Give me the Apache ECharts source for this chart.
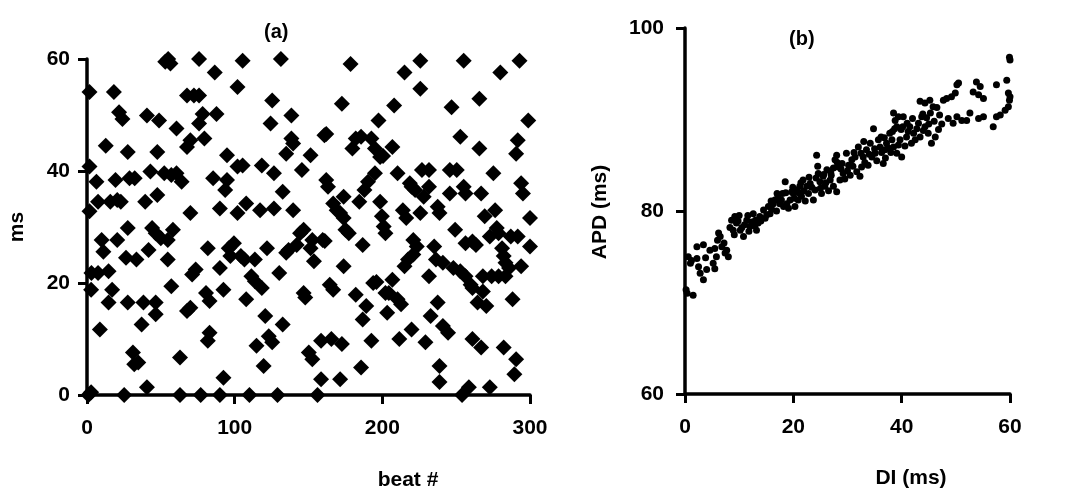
<!DOCTYPE html>
<html>
<head>
<meta charset="utf-8">
<script src="https://cdn.jsdelivr.net/npm/echarts@6/dist/echarts.min.js"></script>
<style>
html,body{margin:0;padding:0;background:#fff;}
#chart{width:1071px;height:496px;}
</style>
</head>
<body>
<div id="chart"></div>
<script>
// Panel (a): beat number vs ms (diamonds)
const aBeat = [1.7,1.7,6.4,1.7,7.5,9.9,11.1,3,7.5,14.6,2.8,17,14.6,8.7,12.7,18.2,21.7,24,27.6,19.3,15.8,20.5,22.9,20.5,27.6,26.4,33.5,28.8,32.3,27.6,31.1,34.7,32,25.2,1,2.8,
40.6,48.8,42.9,47.6,39.4,47.6,44.1,46.5,41.7,50,54.7,52.3,57.1,53,55,56.5,60.6,58.2,54.7,38.2,37,46.5,46.5,40.6,57.1,63,63,60.6,64.1,67.7,70,67.7,72.4,75.9,75.9,78.3,79.5,70,71.2,73.6,67.7,70,75.9,77,
81.8,80.6,83,83,81.8,86.5,87.7,85.4,90,90,92.4,92.4,90,94.8,93.6,94.8,96,99.5,97.1,101.9,101.9,105.4,101.9,105.4,107.8,104.2,106.6,107.8,110,111.3,113.7,114.8,113.7,117.2,118.4,118.4,120.7,119.6,121.9,123.1,125.4,125.4,124.3,126.6,126.6,129,
131.3,130.2,132.5,132.5,134.9,136.5,134.9,139.6,138.4,138.4,139.6,142,144.3,146.7,145.5,146.7,147.8,151.4,150.2,152.6,151.4,152.6,153.7,156.1,158.5,158.5,159.6,161,160.8,162,162,163.2,164.4,166.7,165.5,166.7,169.1,171.4,171.4,172.6,173.8,173.8,175,177.3,173.8,172.6,178.5,
179.7,182,185.6,182,184.4,185.6,186.7,187.9,186.7,189.1,190.3,192.6,192.6,195,193.8,196,195,197.4,198.5,198.5,200.5,199.7,200.9,202.1,202.1,204.4,203.3,206.8,208,206.8,210.3,210.3,212.7,211.5,215,213.9,216.2,215,217.4,218.6,219.8,222.2,219.8,221,223.3,221,
225.7,225.7,225.7,226.8,231.6,228,231.6,229.2,231.6,232.7,235.1,236.3,241,237.5,238.7,238.7,237.5,238.7,241,244.5,245.7,245.7,246.9,250.4,252.8,249.3,248.1,252.8,256.3,254,255.1,255.1,256.3,256.3,261,263.4,259.8,261,258.6,261,264.5,265.7,265.7,266.9,268.1,268.1,270.4,266.9,269.3,
272.8,275.2,276.4,272.8,277.5,278.7,274,278.7,279.9,281.1,282.2,283.4,285.8,283.4,282.2,287,291.7,288.2,290.6,289.4,290.6,291.7,292.9,294,295.2,298.8,300,300,294];
const aMs = [54.1,40.8,38.1,32.8,34.5,27.7,25.6,21.8,21.8,22.1,18.8,18.8,16.5,11.7,44.5,54.1,50.5,49.3,43.4,38.4,34.5,34.8,34.5,27.7,29.8,24.5,24.2,38.7,38.7,16.5,7.6,5.8,5.5,0,0,0.5,
49.9,49,39.9,43.4,34.5,35.7,29.8,28.9,25.9,28,24.2,39.6,39.3,59.5,60,59.2,47.6,29.5,27.7,16.5,12.6,16.5,14.4,1.4,19.4,6.7,0,39.6,38.1,44.3,45.5,53.5,53.5,53.5,48.5,50.2,45.8,32.5,21.5,22.4,15,15.6,60,0,
26.2,18.2,16.8,11.1,9.7,57.6,50.2,38.7,0,22.7,3.1,18.8,33.3,38.4,36.6,42.8,26.2,27.1,24.8,32.5,55,59.7,40.8,41,34.2,24.8,24.2,17.1,0,21.2,20.3,8.8,24.2,33,41,19.1,14.1,5.2,26.2,10.5,9.4,52.6,48.5,39.6,33.3,0,
60,21.8,12.6,36.3,25.4,25.9,43.1,44.9,45.8,49.9,33,26.8,28.9,29.5,40.2,18.2,17.4,42.8,7.6,6.4,26.2,27.7,23.9,0,2.8,9.7,27.7,27.5,46.4,46.6,38.4,37.2,19.7,18.8,10,34.2,33,32.5,2.8,9.1,35.4,31.6,29.5,28.9,23,52,59.1,
44,45.8,46.1,17.9,34.5,4.9,26.8,36.6,13.5,15.9,38.1,9.7,45.8,44,20,20.2,39.6,49,34.5,42.5,42.7,31.9,30.1,28.9,18.2,18.2,14.7,20.6,51.7,44.3,39.6,17.1,16.2,10,57.6,33,31.6,23,24.2,37.8,37.2,36.6,11.7,27.7,26.5,25.1,
59.7,54.7,32.5,40.2,40.2,35.4,37.2,9.4,21.2,14.1,26.5,24.2,23.6,16.5,5.2,2.3,33.6,32.5,12.3,11.1,40.2,36,51.4,40.2,46.1,29.5,22.7,22.1,21.2,0,59.7,37.2,36,27.1,27.4,26.8,19.7,19.1,1.4,10,16.5,52.9,44,36,21.2,18.5,15.9,8.5,31.9,
1.4,39.6,33,28.3,29.8,28.9,21.2,21.2,57.6,26.2,24.8,23.6,22.7,21.2,8.5,28.3,28.3,17.1,6.4,3.7,43.1,45.5,59.7,37.8,36,49,31.6,26.5,23];

// Panel (b): DI (ms) vs APD (ms) (dots)
const bDI = [0.2,0.4,1.5,0.6,1.2,2.2,2.5,2.8,2.2,3.4,3.4,4,4.6,5.5,5.2,5.5,5.8,6.2,6.5,6.8,7.7,7.4,8,8.6,9.2,9.5,8.9,8.3,10.2,10.5,10.8,11.4,12,12.3,12.6,13.2,13.5,13.8,14.5,15.1,15.4,15.7,16.3,16.6,17.2,17.8,18.2,18.5,18.8,19.1,19.4,20,20.6,21.2,20.3,20.9,21.5,21.8,22.5,22.8,23.1,23.7,24,24.3,24.6,24.9,25.5,26.2,25.2,25.8,26.8,27.4,27.7,28,28.3,27.4,28,28.6,29.2,29.8,30.2,30.8,31.4,32,32.6,32.9,32.3,33.5,34.2,34.5,34.8,35.1,35.7,36,36.6,36.9,37.2,37.8,38.2,38.5,38.8,39.1,39.4,38.5,39.1,39.7,40,40.3,40.9,41.5,41.8,42.2,43.1,43.4,43.7,43.4,44.3,45.2,45.8,44.3,44.9,45.5,46.2,46.8,47.7,48.3,49.2,49.9,50.2,50.5,48.6,49.5,50.2,51.1,52,53.2,53.8,54.2,54.5,55.1,52.6,54.2,55.1,56.9,57.5,58.2,59.1,57.5,59.4,59.7,60,59.9,59.7,60,59.9,
9.8,10,11,11.8,12.9,14,14.8,16,16.9,17.5,18,19.7,20.2,21,21.9,22.2,23.4,24.2,25,26,26.5,27,28.8,29.5,30,30.5,31,31.7,33.2,33.8,34,35.4,36.3,37,37.5,38,39.4,40.6,41.2,42.5,42.8,44,44.6,45,46,47,47.4,
15.9,17,18.6,19.9,21.4,22.9,24.5,25.6,26.9,28.1,29,31.2,32.5,33,35,36.2,38.7,39.9,41,42,43.9,45.3,46.5,1,3.8,6,7.2,9.1,11.6,13,40.2,38.3,36.8];
const bAPD = [71.4,71,70.8,75,74.6,74.8,73.9,73.2,76.1,76.3,72.5,73.6,75.7,75.9,74.3,73.7,75,77.6,77.2,76.1,75.7,75.4,75,79,79.4,78.7,77.9,78.2,77.9,78.2,77.2,79,78.3,78.8,79.7,77.9,78.7,79.4,80.1,79.6,80.5,79.7,80.8,81.2,81.6,81.2,80.5,83.2,80.8,80.3,81.2,81.9,82.3,82.7,80.5,81.2,81.6,83.4,82.7,81.9,83,81.2,82.3,86.1,84.1,83.2,83.8,84.5,81.9,82.7,83.4,84.7,85.6,86.1,84.8,82.7,82.1,83.4,84.1,86.3,85,85.6,85.9,87,84.8,85.9,83.8,86.7,87.4,85.9,89,86.3,87.8,87,85.2,86.7,87.4,88.5,87.8,90.7,89.9,89.2,90.3,87,86.3,87.8,85.9,90.3,88.1,89.2,87.4,88.5,89.6,88.1,90.3,92,91.8,92.1,91.4,89.2,88.5,87.4,88.1,88.9,92.1,92.3,92.5,92.9,93.8,94,90.1,89.6,90.3,89.9,89.9,93,94.1,92.7,93.6,92.3,90.7,90.1,90.3,89.2,90.3,90.5,91,93.8,94.3,92.9,92.5,92.1,91.4,96.5,96.8,
78.9,79.5,78.5,77.8,78.4,78.9,79.2,80.2,80,80.8,81.9,82.1,81.4,82,82.2,81.1,82.6,83.6,82.5,83.1,82.2,83.9,84.6,83.5,84.4,83.9,84.9,84.3,85.3,85,86.2,85.5,86.4,85.8,86.9,86.4,87.2,87.1,88.7,87.8,89,88.8,90.2,89.5,89.8,90.5,89.5,
81.1,81.9,82,82.6,83.1,83.7,84.9,84,84.2,85.3,85.2,86.4,86.3,87.6,86.8,88.1,89,88.9,89.6,90.1,90.6,90.7,91.3,74.3,74.9,76.8,76.5,77.4,79.5,79,89.2,88.7,88];

const aTicks = [0, 100, 200, 300];
const bTicks = [0, 20, 40, 60];

const FONT = '"Liberation Sans", Arial, sans-serif';
const INK = '#000';

function zip(xs, ys) { return xs.map((x, i) => [x, ys[i]]); }

function axisCommon(extra) {
  return Object.assign({
    type: 'value',
    splitLine: { show: false },
    axisLine: { show: true, onZero: false, lineStyle: { color: INK, width: 3.5 } },
    axisTick: { show: true, inside: false, length: 9, lineStyle: { color: INK, width: 3 } },
    axisLabel: { color: INK, fontSize: 20, fontWeight: 'bold', fontFamily: FONT }
  }, extra);
}

const chart = echarts.init(document.getElementById('chart'), null, { renderer: 'canvas' });
chart.setOption({
  backgroundColor: '#fff',
  animation: false,
  grid: [
    { left: 87, top: 59, width: 443, height: 336 },
    { left: 685, top: 28, width: 325, height: 366 }
  ],
  xAxis: [
    axisCommon({ gridIndex: 0, min: aTicks[0], max: aTicks[aTicks.length - 1], interval: 100,
      axisLabel: { color: INK, fontSize: 21, fontWeight: 'bold', fontFamily: FONT, margin: 23 } }),
    axisCommon({ gridIndex: 1, min: bTicks[0], max: bTicks[bTicks.length - 1], interval: 20,
      axisLabel: { color: INK, fontSize: 21, fontWeight: 'bold', fontFamily: FONT, margin: 23 } })
  ],
  yAxis: [
    axisCommon({ gridIndex: 0, min: 0, max: 60, interval: 20,
      axisLabel: { color: INK, fontSize: 21, fontWeight: 'bold', fontFamily: FONT, margin: 17 } }),
    axisCommon({ gridIndex: 1, min: 60, max: 100, interval: 20,
      axisLabel: { color: INK, fontSize: 21, fontWeight: 'bold', fontFamily: FONT, margin: 21 } })
  ],
  series: [
    { type: 'scatter', xAxisIndex: 0, yAxisIndex: 0, symbol: 'diamond', symbolSize: 16, clip: false,
      itemStyle: { color: '#000', opacity: 1 }, data: zip(aBeat, aMs) },
    { type: 'scatter', xAxisIndex: 1, yAxisIndex: 1, symbol: 'circle', symbolSize: 7, clip: false,
      itemStyle: { color: '#000', opacity: 1 }, data: zip(bDI, bAPD) }
  ],
  graphic: [
    { type: 'text', left: 264, top: 22, style: { text: '(a)', font: 'bold 20px ' + FONT, fill: INK } },
    { type: 'text', left: 789, top: 29, style: { text: '(b)', font: 'bold 20px ' + FONT, fill: INK } },
    { type: 'text', x: 17, y: 227, rotation: Math.PI / 2,
      style: { text: 'ms', font: 'bold 21px ' + FONT, fill: INK, align: 'center', verticalAlign: 'middle' } },
    { type: 'text', x: 408, y: 480,
      style: { text: 'beat #', font: 'bold 21px ' + FONT, fill: INK, align: 'center', verticalAlign: 'middle' } },
    { type: 'text', x: 600, y: 212, rotation: Math.PI / 2,
      style: { text: 'APD (ms)', font: 'bold 21px ' + FONT, fill: INK, align: 'center', verticalAlign: 'middle' } },
    { type: 'text', x: 911, y: 478,
      style: { text: 'DI (ms)', font: 'bold 21px ' + FONT, fill: INK, align: 'center', verticalAlign: 'middle' } }
  ]
});
</script>
</body>
</html>
